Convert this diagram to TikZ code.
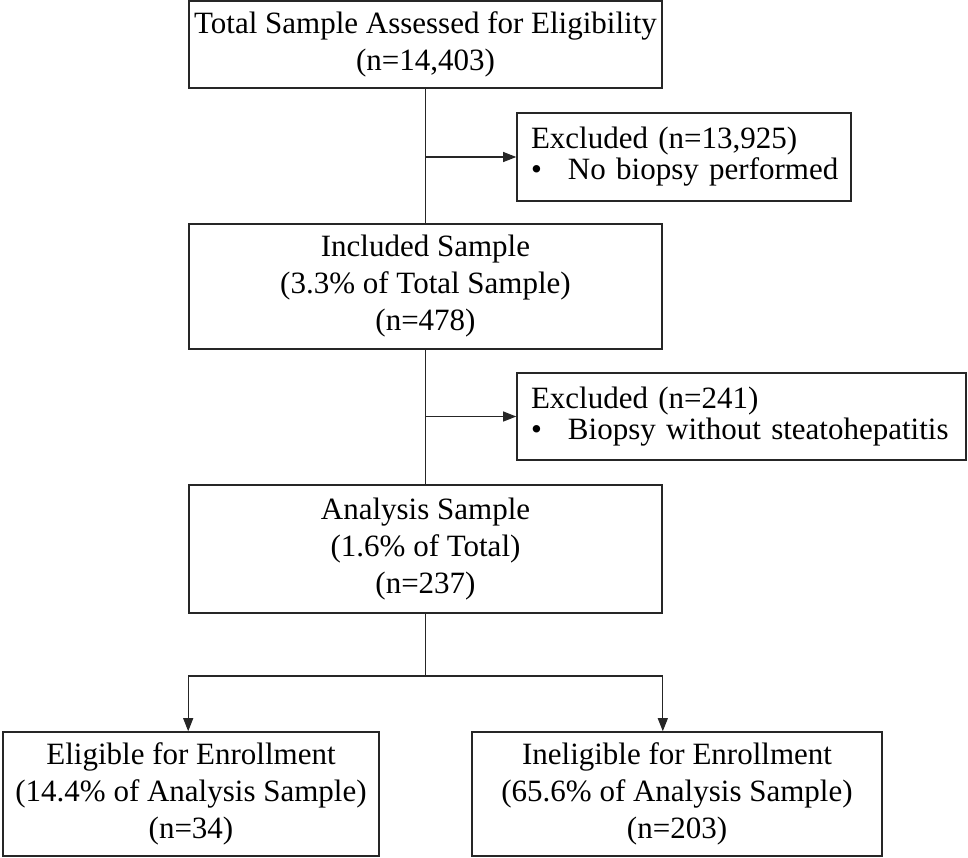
\documentclass[tikz,border=0pt]{standalone}
\usepackage{fontspec}
\setmainfont{Liberation Serif}
\usetikzlibrary{arrows.meta}
\begin{document}
\begin{tikzpicture}[x=1pt,y=-1pt,
  box/.style={draw=black!85, line width=1.6pt, inner sep=0pt, align=center,
    font=\fontsize{31pt}{37pt}\selectfont},
  exbox/.style={draw=black!85, line width=1.6pt, inner xsep=14pt, inner ysep=0pt, align=left,
    font=\fontsize{31pt}{31pt}\selectfont},
  conn/.style={draw=black!85, line width=1.1pt},
  arr/.style={conn, -{Triangle[length=13pt,width=10pt]}}]
\useasboundingbox (0,0) rectangle (968,857);
\node[box, minimum width=473pt, minimum height=87pt] (t) at (425.5,44.5)
  {Total Sample Assessed for Eligibility\\(n=14,403)};
\node[exbox, text width=306pt, minimum height=88pt] (ex1) at (684,157)
  {\mbox{Excluded (n=13,925)}\\\mbox{\makebox[37pt][l]{\textbullet}No biopsy performed}};
\node[box, minimum width=473pt, minimum height=125pt] (inc) at (425.5,286.5)
  {Included Sample\\(3.3\% of Total Sample)\\(n=478)};
\node[exbox, text width=421pt, minimum height=87pt] (ex2) at (741.5,416.5)
  {\mbox{Excluded (n=241)}\\\mbox{\makebox[37pt][l]{\textbullet}Biopsy without steatohepatitis}};
\node[box, minimum width=473pt, minimum height=128pt] (ana) at (425.5,549)
  {Analysis Sample\\(1.6\% of Total)\\(n=237)};
\node[box, minimum width=376pt, minimum height=124pt] (el) at (191,794)
  {Eligible for Enrollment\\(14.4\% of Analysis Sample)\\(n=34)};
\node[box, minimum width=410pt, minimum height=124pt] (inel) at (677,794)
  {Ineligible for Enrollment\\(65.6\% of Analysis Sample)\\(n=203)};
\coordinate (j) at (425.5,676);
\draw[conn] (t.south) -- (inc.north);
\draw[arr] (t.south |- ex1.west) -- (ex1.west);
\draw[conn] (inc.south) -- (ana.north);
\draw[arr] (inc.south |- ex2.west) -- (ex2.west);
\draw[conn] (ana.south) -- (j);
\draw[conn] (ana.south west |- j) -- (ana.south east |- j);
\draw[arr] (ana.south west |- j) -- (ana.south west |- el.north);
\draw[arr] (ana.south east |- j) -- (ana.south east |- inel.north);
\end{tikzpicture}
\end{document}
